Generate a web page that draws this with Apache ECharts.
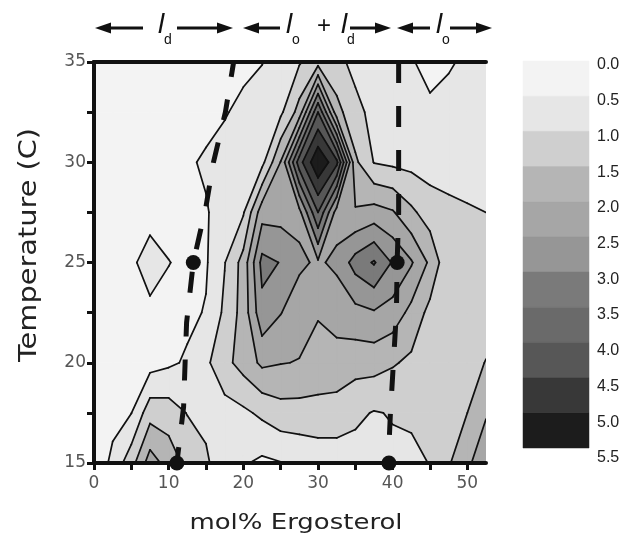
<!DOCTYPE html>
<html>
<head>
<meta charset="utf-8">
<script src="https://cdn.jsdelivr.net/npm/echarts@6.0.0/dist/echarts.min.js"></script>
<style>
  html, body { margin: 0; padding: 0; background: #fff; }
  #chart { width: 638px; height: 535px; }
</style>
</head>
<body>
<div id="chart"></div>
<script>
const molPct = [0, 2.5, 5, 7.5, 10, 12.5, 15, 17.5, 20, 22.5, 25, 27.5, 30, 32.5, 35, 37.5, 40, 42.5, 45, 47.5, 50, 52.5]
const temps = [15, 17.5, 20, 22.5, 25, 27.5, 30, 32.5, 35]

const z15   = [0.05, 0.65, 1.3, 2.25, 1.8, 1.35, 1.05, 0.8, 0.55, 0.4, 0.48, 0.6, 0.7, 0.75, 0.8, 0.92, 0.9, 0.85, 1.02, 1.45, 1.9, 2.35]
const z17_5 = [0.1, 0.3, 0.49, 1.3, 1.25, 0.98, 0.92, 0.8, 0.9, 1.1, 1.3, 1.3, 1.3, 1.25, 1.1, 0.97, 1.03, 1.1, 1.2, 1.35, 1.5, 1.95]
const z20   = [0.15, 0.25, 0.35, 0.3, 0.42, 0.56, 0.9, 1.35, 1.7, 2.1, 2.02, 1.98, 1.85, 1.85, 1.7, 1.7, 1.55, 1.4, 1.25, 1.2, 1.3, 1.52]
const z22_5 = [0.2, 0.22, 0.3, 0.44, 0.38, 0.4, 0.53, 1.1, 1.7, 2.85, 2.52, 2.2, 2.03, 2.15, 2.35, 2.45, 2.3, 1.85, 1.35, 1.2, 1.2, 1.25]
const z25   = [0.2, 0.25, 0.45, 0.62, 0.51, 0.42, 0.45, 0.98, 1.69, 3.15, 2.98, 2.6, 2.42, 2.62, 3.2, 3.55, 2.95, 2.55, 1.9, 1.1, 1.15, 1.2]
const z27_5 = [0.2, 0.22, 0.28, 0.4, 0.35, 0.38, 0.47, 0.66, 0.95, 2.3, 2.3, 2.35, 4.0, 2.27, 2.05, 2.2, 2.05, 1.6, 1.26, 1.11, 1.04, 1.0]
const z30   = [0.2, 0.22, 0.25, 0.28, 0.35, 0.45, 0.55, 0.65, 0.72, 0.85, 2.02, 4.3, 5.45, 4.65, 1.6, 0.98, 0.9, 0.85, 0.78, 0.8, 0.82, 0.85]
const z32_5 = [0.2, 0.2, 0.2, 0.2, 0.25, 0.3, 0.38, 0.47, 0.6, 0.8, 0.9, 1.7, 4.0, 1.7, 1.1, 0.9, 0.75, 0.65, 0.55, 0.6, 0.65, 0.7]
const z35   = [0.2, 0.2, 0.2, 0.2, 0.22, 0.25, 0.3, 0.35, 0.4, 0.48, 0.7, 0.95, 1.3, 1.1, 0.9, 0.75, 0.65, 0.52, 0.42, 0.47, 0.55, 0.6]
const zRows = [z15, z17_5, z20, z22_5, z25, z27_5, z30, z32_5, z35]

// contour levels and their fills
const levels = [0, 0.5, 1, 1.5, 2, 2.5, 3, 3.5, 4, 4.5, 5, 5.5]
const bandColors = ['#f3f3f3', '#e6e6e6', '#cfcfcf', '#b5b5b5', '#a6a6a6', '#969696',
  '#7a7a7a', '#6a6a6a', '#575757', '#383838', '#1c1c1c']

// phase boundaries (dashed, listed top to bottom) and the marked points on them
const boundaryLd = [[18.7, 35], [17.6, 32.5], [16, 30], [15, 27.8], [13.3, 25], [12.4, 22], [12.2, 20], [12, 17.8], [11.1, 15]]
const boundaryLo = [[40.8, 35], [40.8, 27.5], [40.6, 25], [40.5, 22.5], [40.1, 20], [39.7, 17.5], [39.4, 15]]
const boundaryDots = [[13.3, 25], [40.6, 25], [11.1, 15], [39.5, 15]]

const xTickValues = [0, 5, 10, 15, 20, 25, 30, 35, 40, 45, 50]
const xLabelValues = [0, 10, 20, 30, 40, 50]
const yTickValues = [15, 17.5, 20, 22.5, 25, 27.5, 30, 32.5, 35]
const yLabelValues = [15, 20, 25, 30, 35]

// == helpers ================================================================

const cells = []
for (let j = 0; j < temps.length - 1; j++) {
  for (let i = 0; i < molPct.length - 1; i++) cells.push([molPct[i], temps[j], i, j])
}
// fills are painted level by level over the whole mesh
const fillItems = []
for (let m = 0; m < bandColors.length; m++) cells.forEach(c => fillItems.push(c.concat(m)))

function cellCorners (i, j) {
  const x0 = molPct[i]; const x1 = molPct[i + 1]
  const y0 = temps[j]; const y1 = temps[j + 1]
  return {
    pts: [[x0, y0], [x1, y0], [x1, y1], [x0, y1]],
    v: [zRows[j][i], zRows[j][i + 1], zRows[j + 1][i + 1], zRows[j + 1][i]]
  }
}

// pieces of a cell where value >= L and the contour segments bounding them
// (saddles keep the high corners apart)
function walkCell (pts, v, L) {
  const seq = []
  for (let k = 0; k < 4; k++) {
    const k2 = (k + 1) % 4
    const a = v[k] >= L
    const b = v[k2] >= L
    if (a) seq.push({ p: pts[k], kind: 'c' })
    if (a !== b) {
      const t = (L - v[k]) / (v[k2] - v[k])
      seq.push({ p: [pts[k][0] + t * (pts[k2][0] - pts[k][0]), pts[k][1] + t * (pts[k2][1] - pts[k][1])], kind: a ? 'exit' : 'enter' })
    }
  }
  const s = seq.findIndex(e => e.kind === 'enter')
  if (s < 0) return { polys: v[0] >= L ? [pts] : [], segs: [] }
  const rot = seq.slice(s).concat(seq.slice(0, s))
  const polys = []
  const segs = []
  let cur = null
  rot.forEach(e => {
    if (e.kind === 'enter') cur = [e.p]
    else if (e.kind === 'c') cur.push(e.p)
    else {
      cur.push(e.p)
      polys.push(cur)
      segs.push([e.p, cur[0]])
    }
  })
  return { polys, segs }
}

function renderFill (params, api) {
  const c = cellCorners(api.value(2), api.value(3))
  const m = api.value(4)
  const polys = m === 0 ? [c.pts] : walkCell(c.pts, c.v, levels[m]).polys
  return {
    type: 'group',
    children: polys.map(poly => ({
      type: 'polygon',
      shape: { points: poly.map(p => api.coord(p)) },
      style: { fill: bandColors[m], stroke: bandColors[m], lineWidth: 1.2, lineJoin: 'round' }
    }))
  }
}

function renderLines (params, api) {
  const c = cellCorners(api.value(2), api.value(3))
  const children = []
  for (let m = 1; m < levels.length - 1; m++) {
    walkCell(c.pts, c.v, levels[m]).segs.forEach(s => {
      const a = api.coord(s[0])
      const b = api.coord(s[1])
      children.push({
        type: 'line',
        shape: { x1: a[0], y1: a[1], x2: b[0], y2: b[1] },
        style: { stroke: '#111', lineWidth: 1.7, lineCap: 'round' }
      })
    })
  }
  return { type: 'group', children }
}

function renderBand (params, api) {
  const lo = api.coord([0, api.value(0)])
  const hi = api.coord([1, api.value(1)])
  return {
    type: 'rect',
    shape: { x: lo[0], y: lo[1], width: hi[0] - lo[0], height: hi[1] - lo[1] },
    style: { fill: bandColors[api.value(2)], stroke: bandColors[api.value(2)], lineWidth: 0.5 }
  }
}

const bands = bandColors.map((c, k) => [levels[k], levels[k + 1], k])

// == annotation and titles ==================================================

const ink = '#111'
const font = '"DejaVu Sans", "Liberation Sans", Arial, sans-serif'

function arrow (x1, x2, y, tipLeft) {
  const tip = tipLeft ? x1 : x2
  const d = tipLeft ? 1 : -1
  return [
    { type: 'line', shape: { x1: tipLeft ? x1 + 12 : x1, y1: y, x2: tipLeft ? x2 : x2 - 12, y2: y },
      style: { stroke: ink, lineWidth: 3 } },
    { type: 'polygon', shape: { points: [[tip, y], [tip + d * 16, y - 5.5], [tip + d * 16, y + 5.5]] },
      style: { fill: ink } }
  ]
}
function ell (x, sub) {
  return [
    { type: 'text', x, y: 11, style: { text: 'l', font: 'italic 28px "Liberation Sans", Arial', fill: ink } },
    { type: 'text', x: x + 6, y: 33, style: { text: sub, font: '14px "Liberation Sans", Arial', fill: ink } }
  ]
}
const header = [].concat(
  arrow(95, 143, 28, true), ell(158, 'd'), arrow(177, 233, 28, false),
  arrow(243, 280, 28, true), ell(286, 'o'),
  [{ type: 'text', x: 317, y: 14, style: { text: '+', font: '24px "Liberation Sans", Arial', fill: ink } }],
  ell(341, 'd'), arrow(350, 391, 28, false),
  arrow(397, 430, 28, true), ell(436, 'o'), arrow(450, 492, 28, false)
)
const titles = [
  { type: 'text', x: 296, y: 523, scaleX: 1.18,
    style: { text: 'mol% Ergosterol', font: '22px ' + font, fill: '#222', align: 'center', verticalAlign: 'middle' } },
  { type: 'text', x: 30, y: 245, rotation: Math.PI / 2, scaleX: 1.2,
    style: { text: 'Temperature (C)', font: '24px ' + font, fill: '#222', align: 'center', verticalAlign: 'middle' } }
]

// == chart ==================================================================

const frameLine = { show: true, lineStyle: { color: ink, width: 4 } }
const dashed = { color: ink, width: 5, type: [21, 23], cap: 'butt' }

const option = {
  animation: false,
  backgroundColor: '#fff',
  grid: [
    { left: 94, top: 62, width: 392, height: 401 },
    { left: 523, top: 61, width: 66, height: 387 },
    { left: 523, top: 65, width: 66, height: 393 }
  ],
  xAxis: [
    {
      type: 'value', gridIndex: 0, min: 0, max: 52.5, z: 10,
      axisLine: frameLine,
      axisTick: { show: true, customValues: xTickValues, length: 7, lineStyle: { color: ink, width: 3 } },
      axisLabel: { customValues: xLabelValues, margin: 12, fontSize: 17, color: '#555', fontFamily: font },
      splitLine: { show: false }
    },
    {
      type: 'value', gridIndex: 0, min: 0, max: 52.5, position: 'top', z: 10,
      axisLine: frameLine, axisTick: { show: false }, axisLabel: { show: false }, splitLine: { show: false }
    },
    { type: 'value', gridIndex: 1, min: 0, max: 1, show: false },
    { type: 'value', gridIndex: 2, min: 0, max: 1, show: false }
  ],
  yAxis: [
    {
      type: 'value', gridIndex: 0, min: 15, max: 35, z: 10,
      axisLine: frameLine,
      axisTick: { show: true, customValues: yTickValues, length: 7, lineStyle: { color: ink, width: 3 } },
      axisLabel: { customValues: yLabelValues, margin: 8, fontSize: 17, color: '#555', fontFamily: font },
      splitLine: { show: false }
    },
    {
      type: 'value', gridIndex: 0, min: 15, max: 35, position: 'right', z: 10,
      axisLine: frameLine, axisTick: { show: false }, axisLabel: { show: false }, splitLine: { show: false }
    },
    { type: 'value', gridIndex: 1, min: 0, max: 5.5, inverse: true, show: false },
    {
      type: 'value', gridIndex: 2, min: 0, max: 5.5, interval: 0.5, inverse: true, position: 'right',
      axisLine: { show: false }, axisTick: { show: false }, splitLine: { show: false },
      axisLabel: { margin: 8, fontSize: 16, color: '#222', fontFamily: '"Liberation Sans", Arial', formatter: v => v.toFixed(1) }
    }
  ],
  series: [
    {
      type: 'custom', xAxisIndex: 0, yAxisIndex: 0, clip: true, silent: true, z: 2,
      encode: { x: 0, y: 1 }, data: fillItems, renderItem: renderFill
    },
    {
      type: 'custom', xAxisIndex: 0, yAxisIndex: 0, clip: true, silent: true, z: 3,
      encode: { x: 0, y: 1 }, data: cells, renderItem: renderLines
    },
    {
      type: 'line', xAxisIndex: 0, yAxisIndex: 0, data: boundaryLd, symbol: 'none', z: 4, silent: true,
      lineStyle: Object.assign({ dashOffset: 6 }, dashed)
    },
    {
      type: 'line', xAxisIndex: 0, yAxisIndex: 0, data: boundaryLo, symbol: 'none', z: 4, silent: true,
      lineStyle: dashed
    },
    {
      type: 'scatter', xAxisIndex: 0, yAxisIndex: 0, data: boundaryDots, symbolSize: 15, z: 5, silent: true,
      itemStyle: { color: ink, opacity: 1 }
    },
    {
      type: 'custom', xAxisIndex: 2, yAxisIndex: 2, silent: true,
      encode: { y: [0, 1] }, data: bands, renderItem: renderBand
    }
  ],
  graphic: header.concat(titles)
}

const chart = echarts.init(document.getElementById('chart'), null, { renderer: 'canvas' })
chart.setOption(option)
</script>
</body>
</html>
